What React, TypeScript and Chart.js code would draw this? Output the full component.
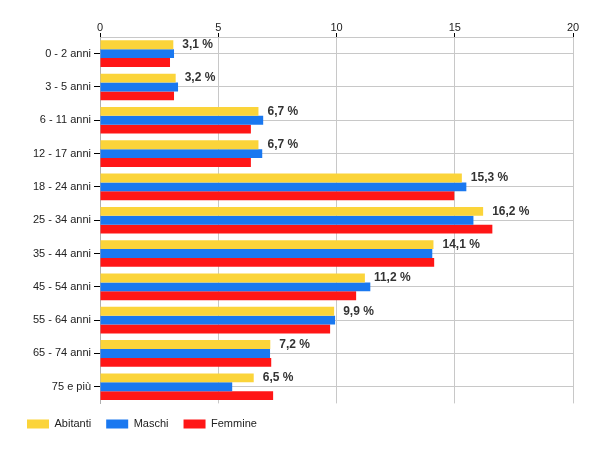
import React, { useEffect, useRef } from "react";
import { Chart, registerables } from "chart.js";

Chart.register(...registerables);

const categories = [
  "0 - 2 anni",
  "3 - 5 anni",
  "6 - 11 anni",
  "12 - 17 anni",
  "18 - 24 anni",
  "25 - 34 anni",
  "35 - 44 anni",
  "45 - 54 anni",
  "55 - 64 anni",
  "65 - 74 anni",
  "75 e più",
];

const abitanti = [3.1, 3.2, 6.7, 6.7, 15.3, 16.2, 14.1, 11.2, 9.9, 7.2, 6.5];
const maschi = [3.13, 3.3, 6.9, 6.86, 15.49, 15.79, 14.05, 11.43, 9.94, 7.19, 5.59];
const femmine = [2.96, 3.13, 6.38, 6.38, 14.98, 16.59, 14.13, 10.83, 9.73, 7.24, 7.32];

const xTicks = [0, 5, 10, 15, 20];

const labelPlugin = {
  id: "valueLabels",
  afterDatasetsDraw(chart: any) {
    const ctx = chart.ctx;
    const meta = chart.getDatasetMeta(0);
    const data = chart.data.datasets[0].data as number[];
    ctx.save();
    ctx.font = "bold 12px 'Liberation Sans', Arial, sans-serif";
    ctx.fillStyle = "#333333";
    ctx.textAlign = "left";
    ctx.textBaseline = "middle";
    meta.data.forEach((el: any, i: number) => {
      const txt = data[i].toFixed(1).replace(".", ",") + " %";
      ctx.fillText(txt, el.x + 9, el.y);
    });
    ctx.restore();
  },
};

export default function App() {
  const ref = useRef<HTMLCanvasElement | null>(null);

  useEffect(() => {
    document.body.style.margin = "0";
    const canvas = ref.current;
    if (!canvas) return;
    const font = { family: "'Liberation Sans', Arial, sans-serif", size: 11 };
    const chart = new Chart(canvas, {
      type: "bar",
      data: {
        labels: categories,
        datasets: [
          { label: "Abitanti", data: abitanti, backgroundColor: "#FBD43A" },
          { label: "Maschi", data: maschi, backgroundColor: "#1A78F0" },
          { label: "Femmine", data: femmine, backgroundColor: "#FF1616" },
        ],
      },
      options: {
        indexAxis: "y",
        animation: false,
        responsive: false,
        devicePixelRatio: 1,
        datasets: {
          bar: { categoryPercentage: 0.8, barPercentage: 1.0 },
        },
        layout: { padding: { left: 12, right: 27, top: 0, bottom: 10.6 } },
        scales: {
          x: {
            position: "top",
            min: 0,
            max: 20,
            afterBuildTicks: (s: any) => {
              s.ticks = xTicks.map((v) => ({ value: v }));
            },
            afterFit: (s: any) => {
              s.height = 37;
            },
            grid: { color: "#c8c8c8", tickColor: "#000000", tickLength: 4 },
            border: { color: "#c8c8c8" },
            ticks: { color: "#222222", font, padding: -2 },
          },
          y: {
            afterFit: (s: any) => {
              s.width = 88;
            },
            grid: { color: "#c8c8c8", tickColor: "#000000", tickLength: 6, offset: false },
            border: { color: "#b0b0b0" },
            ticks: { color: "#222222", font, padding: 3 },
          },
        },
        plugins: {
          legend: {
            position: "bottom",
            align: "start",
            labels: {
              boxWidth: 22,
              boxHeight: 9,
              padding: 15,
              color: "#222222",
              font,
            },
          },
          tooltip: { enabled: false },
        },
      },
      plugins: [labelPlugin],
    });
    return () => chart.destroy();
  }, []);

  return <canvas ref={ref} width={600} height={450} style={{ display: "block" }} />;
}
